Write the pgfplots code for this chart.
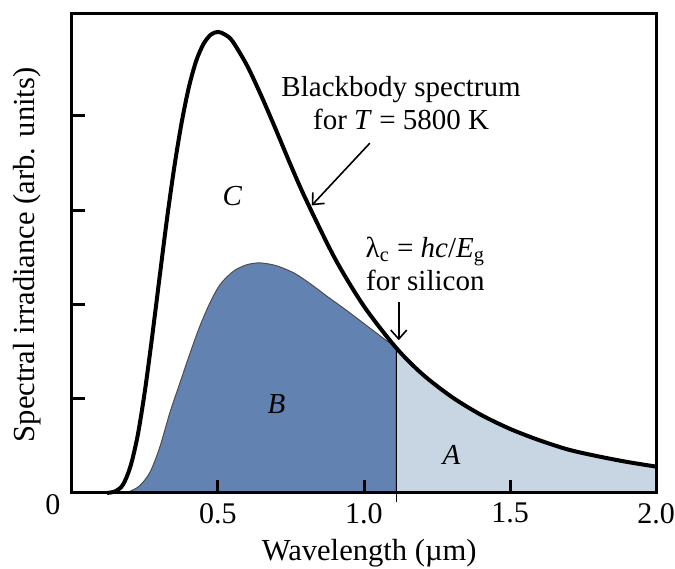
\documentclass[border=0pt]{standalone}
\usepackage{fontspec}
\setmainfont{Liberation Serif}
\usepackage{pgfplots}
\pgfplotsset{compat=1.18}
\usetikzlibrary{arrows.meta}
\definecolor{bandB}{RGB}{98,130,178}
\definecolor{bandA}{RGB}{200,214,228}

\begin{document}
\fontsize{14.5}{16.5}\selectfont
\begin{tikzpicture}
\begin{axis}[
    width=292pt, height=239.5pt, scale only axis,
    xmin=0, xmax=2, ymin=0, ymax=5.08,
    xtick={0.5,1,1.5,2}, xticklabels={0.5,1.0,1.5,2.0},
    ytick={1,2,3,4}, yticklabels={},
    tick pos=left, tick align=inside,
    major tick length=6.5pt,
    tick style={line width=1.5pt, black},
    axis line style={line width=1.5pt},
    tick label style={font=\fontsize{15}{17}\selectfont},
    label style={font=\fontsize{15.3}{17}\selectfont},
    axis on top, clip=false,
    xlabel={Wavelength (µm)},
    ylabel={Spectral irradiance (arb. units)},
    xlabel style={at={(axis description cs:0.509,-0.125)}, anchor=center},
    ylabel style={at={(axis description cs:-0.0762,0.497)}, anchor=center},
]
% region B: energy used by silicon
\addplot[fill=bandB, draw=black!70, line width=0.5pt, smooth] coordinates {
    (0.175,0) (0.2,0.02) (0.233,0.08) (0.267,0.22) (0.30,0.48) (0.336,0.86)
    (0.37,1.17) (0.404,1.48) (0.438,1.77) (0.473,2.02) (0.507,2.21)
    (0.552,2.35) (0.598,2.42) (0.644,2.44) (0.70,2.41) (0.762,2.33)
    (0.82,2.21) (0.876,2.08) (0.93,1.96) (0.99,1.82) (1.058,1.66) (1.11,1.54)
} -- (axis cs:1.11,0) \closedcycle;
% region A: below the gap
\addplot[fill=bandA, draw=none, smooth] coordinates {
    (1.11,1.54) (1.2,1.26) (1.3,1.02) (1.4,0.83) (1.5,0.68) (1.6,0.56)
    (1.7,0.46) (1.8,0.39) (1.9,0.33) (2.0,0.28)
} \closedcycle;
% cutoff wavelength
\addplot[black, line width=0.5pt] coordinates {(1.11,-0.1) (1.11,1.54)};
% blackbody curve, T = 5800 K
\addplot[black, line width=2pt, smooth] coordinates {
    (0.12,0) (0.15,0.02) (0.175,0.09) (0.2,0.28) (0.225,0.61) (0.25,1.09)
    (0.275,1.67) (0.3,2.29) (0.325,2.90) (0.35,3.45) (0.375,3.92) (0.4,4.30)
    (0.425,4.58) (0.45,4.76) (0.475,4.86) (0.5,4.89) (0.525,4.86) (0.55,4.79)
    (0.6,4.53) (0.65,4.20) (0.7,3.84) (0.75,3.47) (0.8,3.12) (0.9,2.49)
    (1.0,1.98) (1.11,1.54) (1.2,1.26) (1.3,1.02) (1.4,0.83) (1.5,0.68)
    (1.6,0.56) (1.7,0.46) (1.8,0.39) (1.9,0.33) (2.0,0.28)
};
% labels
\node[font=\fontsize{15}{17}\selectfont] at (axis cs:0,0) [xshift=-9.5pt, yshift=-6pt] {0};
\node[align=center] at (axis cs:1.127,4.14) {Blackbody spectrum\\for \textit{T} = 5800 K};
\draw[-{Straight Barb[length=4.5pt,width=8pt]}, line width=0.8pt]
    (axis cs:1.02,3.71) -- (axis cs:0.821,3.05);
\node[align=center] at (axis cs:1.21,2.43) {λ\textsubscript{c} = \textit{hc}/\textit{E}\textsubscript{g}\\for silicon};
\draw[-{Straight Barb[length=4.5pt,width=8pt]}, line width=0.8pt]
    (axis cs:1.119,2.03) -- (axis cs:1.119,1.62);
\node at (axis cs:0.549,3.15) {\textit{C}};
\node at (axis cs:0.70,0.94) {\textit{B}};
\node at (axis cs:1.30,0.40) {\textit{A}};
\end{axis}
\pgfresetboundingbox
\useasboundingbox ([xshift=-36pt, yshift=-38pt]current axis.south west)
    rectangle ([xshift=9.5pt, yshift=7pt]current axis.north east);
\end{tikzpicture}
\end{document}
